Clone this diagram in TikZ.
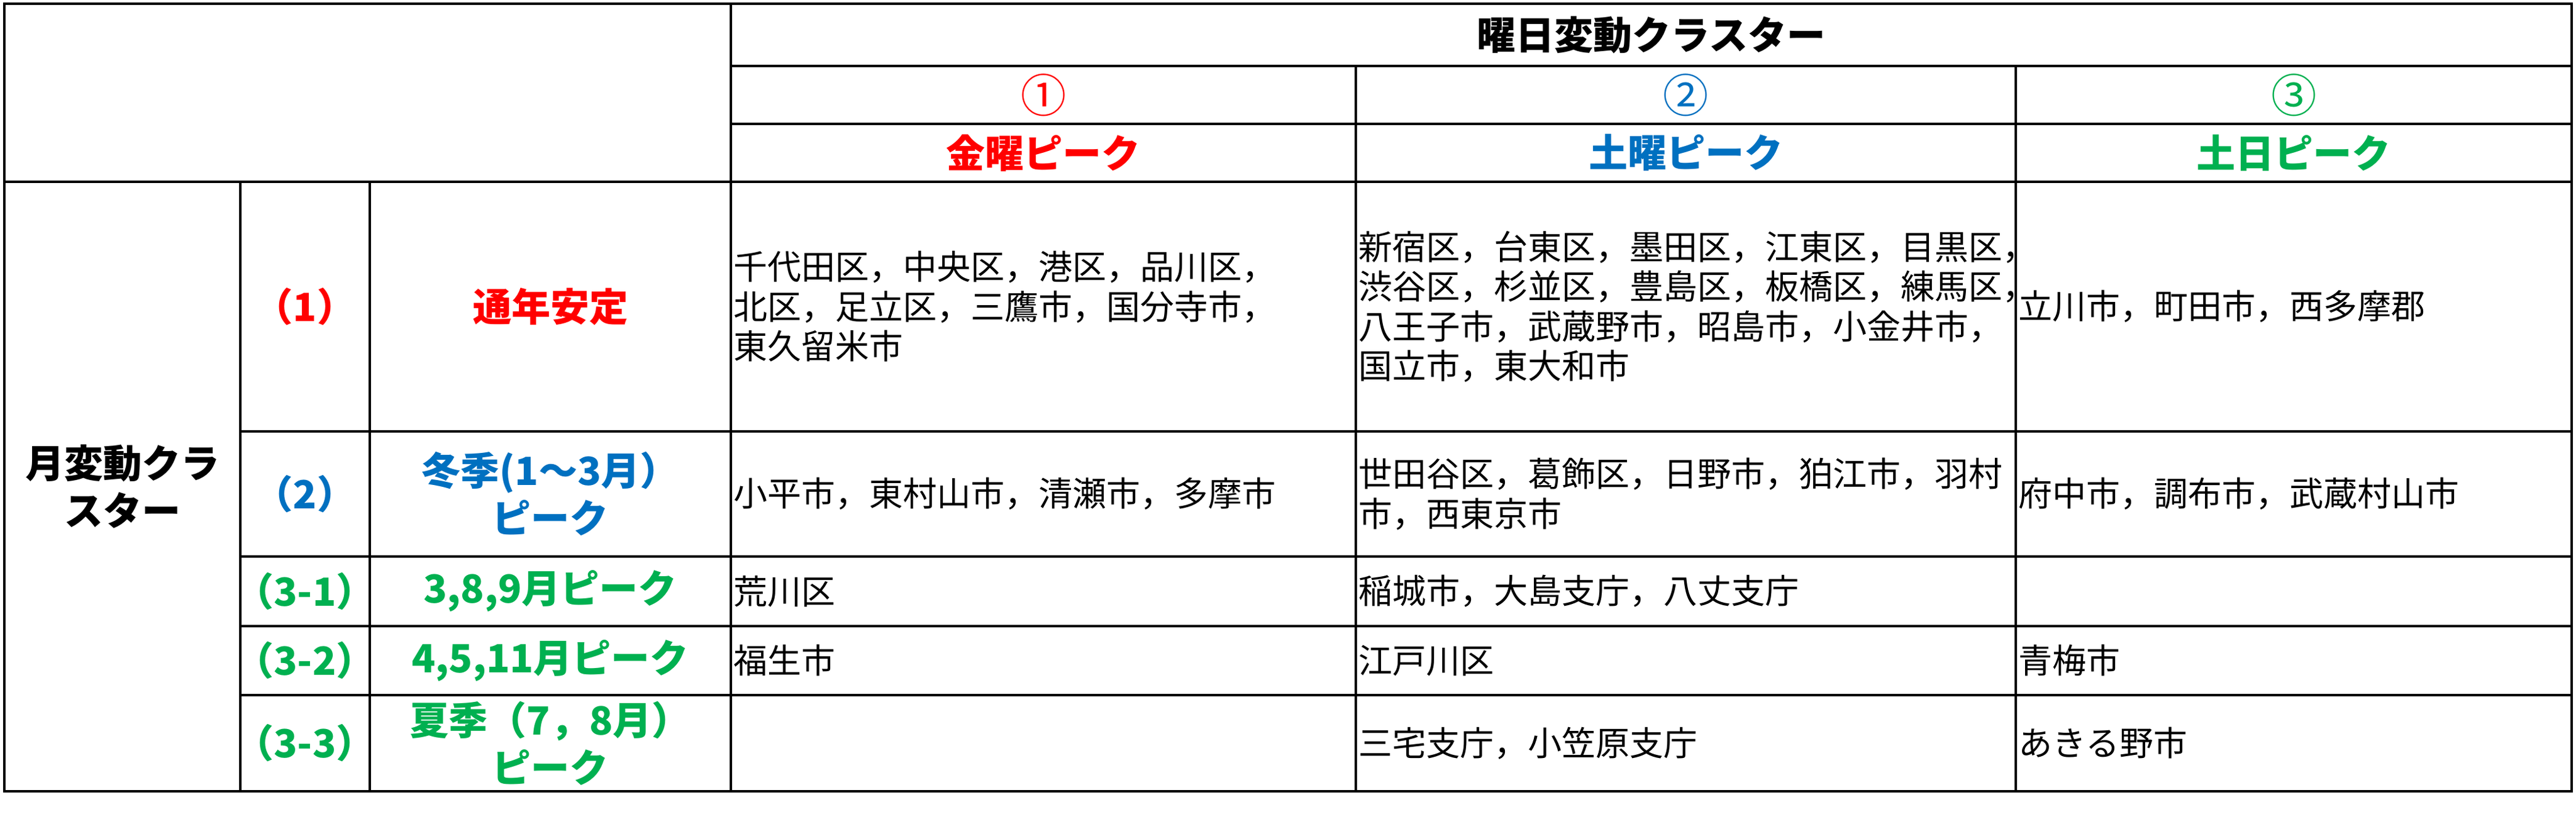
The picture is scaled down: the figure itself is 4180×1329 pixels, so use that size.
\documentclass[tikz,border=0pt]{standalone}
\usepackage{fontspec}
\setmainfont{Noto Sans CJK JP}
\definecolor{cred}{HTML}{FF0000}
\definecolor{cblue}{HTML}{0070C0}
\definecolor{cgreen}{HTML}{00B050}
\begin{document}
\begin{tikzpicture}[x=1pt,y=-1pt,
  grid/.style={line width=3.8pt, black},
  body/.style={anchor=west, inner sep=0pt, align=left, font=\fontsize{55}{64.5}\selectfont},
  head/.style={inner sep=0pt, align=center, font=\fontsize{63}{77}\selectfont\bfseries},
  circ/.style={inner sep=0pt, font=\fontsize{74}{80}\selectfont}]
\fill[white] (0,0) rectangle (4180,1329);
\useasboundingbox (0,0) rectangle (4180,1329);
% grid
\draw[grid] (7,6) rectangle (4173,1284);
\draw[grid] (1186,6) -- (1186,1284);
\draw[grid] (1186,107) -- (4173,107);
\draw[grid] (1186,201) -- (4173,201);
\draw[grid] (7,295) -- (4173,295);
\draw[grid] (390,295) -- (390,1284);
\draw[grid] (600,295) -- (600,1284);
\draw[grid] (2200,107) -- (2200,1284);
\draw[grid] (3271,107) -- (3271,1284);
\foreach \yy in {700,903,1016,1128} {\draw[grid] (390,\yy) -- (4173,\yy);}
% column headers
\node[head] (hdr) at (2679.5,56.5) {曜日変動クラスター};
\node[circ, cred] (c1) at (1693,154) {①};
\node[circ, cblue] (c2) at (2735.5,154) {②};
\node[circ, cgreen] (c3) at (3722,154) {③};
\node[head, cred] (p1) at (1693,248) {金曜ピーク};
\node[head, cblue] (p2) at (2735.5,248) {土曜ピーク};
\node[head, cgreen] (p3) at (3722,248) {土日ピーク};
% row headers
\node[head] (mon) at (198.5,789.5) {月変動クラ\\スター};
\node[head, cred] (r1) at (495,497.5) {（1）};
\node[head, cred] (r1t) at (893,497.5) {通年安定};
\node[head, cblue] (r2) at (495,801.5) {（2）};
\node[head, cblue] (r2t) at (893,801.5) {冬季(1～3月）\\ピーク};
\node[head, cgreen] (r31) at (495,959.5) {（3-1）};
\node[head, cgreen] (r31t) at (893,959.5) {3,8,9月ピーク};
\node[head, cgreen] (r32) at (495,1072) {（3-2）};
\node[head, cgreen] (r32t) at (893,1072) {4,5,11月ピーク};
\node[head, cgreen] (r33) at (495,1206) {（3-3）};
\node[head, cgreen] (r33t) at (893,1206) {夏季（7，8月）\\ピーク};
% body cells
\node[body] (a11) at (1190,497.5) {千代田区，中央区，港区，品川区，\\北区，足立区，三鷹市，国分寺市，\\東久留米市};
\node[body] (a12) at (2204,497.5) {新宿区，台東区，墨田区，江東区，目黒区，\\渋谷区，杉並区，豊島区，板橋区，練馬区，\\八王子市，武蔵野市，昭島市，小金井市，\\国立市，東大和市};
\node[body] (a13) at (3275,497.5) {立川市，町田市，西多摩郡};
\node[body] (a21) at (1190,801.5) {小平市，東村山市，清瀬市，多摩市};
\node[body] (a22) at (2204,801.5) {世田谷区，葛飾区，日野市，狛江市，羽村\\市，西東京市};
\node[body] (a23) at (3275,801.5) {府中市，調布市，武蔵村山市};
\node[body] (a31) at (1190,959.5) {荒川区};
\node[body] (a32) at (2204,959.5) {稲城市，大島支庁，八丈支庁};
\node[body] (a41) at (1190,1072) {福生市};
\node[body] (a42) at (2204,1072) {江戸川区};
\node[body] (a43) at (3275,1072) {青梅市};
\node[body] (a52) at (2204,1206) {三宅支庁，小笠原支庁};
\node[body] (a53) at (3275,1206) {あきる野市};
\end{tikzpicture}
\end{document}
